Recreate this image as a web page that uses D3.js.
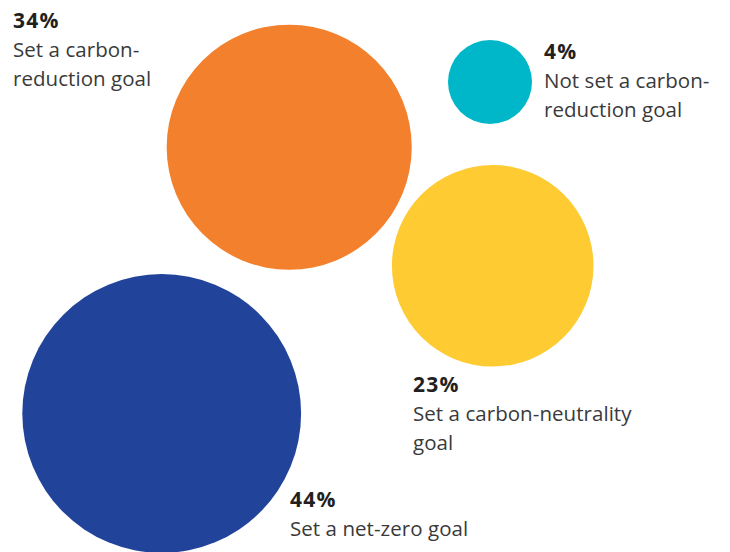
<!DOCTYPE html>
<html><head><meta charset="utf-8">
<script src="https://cdn.jsdelivr.net/npm/d3@7"></script>
<style>body{margin:0;background:#fff}svg{display:block}</style>
</head><body><svg id="c" width="730" height="552"></svg>
<script>
const categories = ["Set a net-zero goal","Set a carbon-reduction goal","Set a carbon-neutrality goal","Not set a carbon-reduction goal"];
const values = [44, 34, 23, 4];
const colors = ["#21439A", "#F3802C", "#FECB32", "#00B7C9"];
const labelLines = [["Set a net-zero goal"],["Set a carbon-","reduction goal"],["Set a carbon-neutrality","goal"],["Not set a carbon-","reduction goal"]];
// layout (centers, label anchors)
const centers = [[161.7,413.5],[289.2,147.2],[492.7,265.8],[490,82]];
const labelPos = [[290,507],[13,28],[413,392],[544,59]];

const svg = d3.select("#c");
const r = d3.scaleSqrt().domain([0, 44]).range([0, 139.4]);
const data = values.map((v,i)=>({v, cat:categories[i], color:colors[i], c:centers[i], l:labelPos[i], lines:labelLines[i]}));

svg.selectAll("circle").data(data).join("circle")
  .attr("cx", d=>d.c[0]).attr("cy", d=>d.c[1]).attr("r", d=>r(d.v)).attr("fill", d=>d.color);

const g = svg.selectAll("g.lab").data(data).join("g").attr("class","lab")
  .attr("transform", d=>`translate(${d.l[0]},${d.l[1]})`)
  .style("font-family","'Open Sans', sans-serif");
g.append("text").attr("font-size",21).attr("font-weight",700).attr("fill","#231F20")
  .attr("letter-spacing", 1.2)
  .text(d=>d.v+"%");
g.each(function(d){
  const t = d3.select(this);
  d.lines.forEach((ln,j)=>{
    t.append("text").attr("y",29*(j+1)).attr("font-size",20.5).attr("fill","#3a3a3a")
     .attr("letter-spacing", 0.05)
     .text(ln);
  });
});
</script></body></html>
